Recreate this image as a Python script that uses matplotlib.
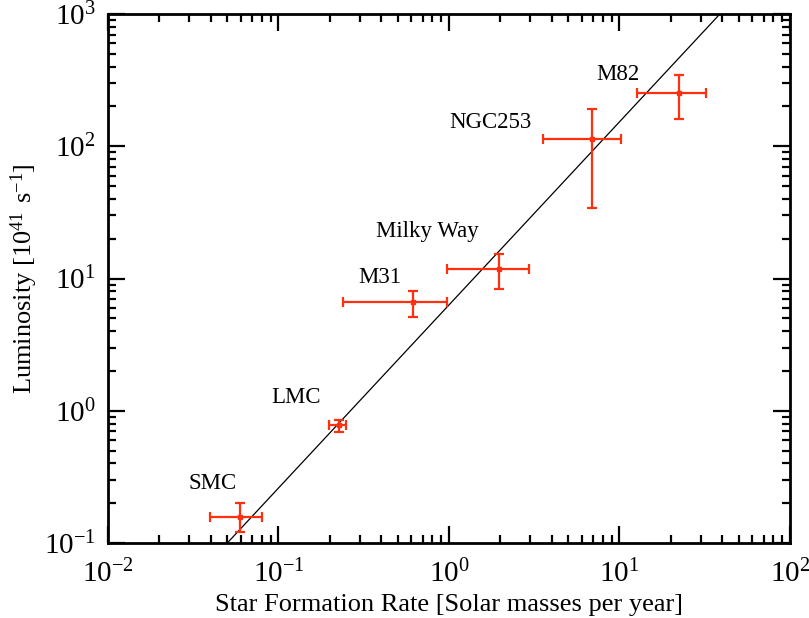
import numpy as np
import matplotlib
matplotlib.use("Agg")
import matplotlib.pyplot as plt
from matplotlib.ticker import LogLocator, FixedLocator, FixedFormatter

# Data
# ----------------------------------------------------------------------
names = ["SMC", "LMC", "M31", "Milky Way", "NGC253", "M82"]
sfr = [0.0594, 0.226, 0.612, 1.97, 6.87, 22.4]
sfr_lo = [0.0396, 0.198, 0.238, 0.98, 3.55, 12.7]
sfr_hi = [0.080, 0.248, 0.98, 2.96, 10.2, 32.2]
lum = [0.157, 0.780, 6.68, 11.8, 112.8, 254.0]
lum_lo = [0.121, 0.695, 5.14, 8.33, 34.3, 161.0]
lum_hi = [0.200, 0.851, 8.05, 15.2, 190.0, 346.0]
label_x = [0.0413, 0.1268, 0.394, 0.743, 1.76, 9.8]
label_y = [0.284, 1.25, 10.1, 22.5, 150.0, 346.0]
fit_x = [0.0501, 38.8]
fit_y = [0.1, 1000.0]
decades = [-2, -1, 0, 1, 2]
ydecades = [-1, 0, 1, 2, 3]
# ----------------------------------------------------------------------

RED = "#ff3010"

plt.rcParams["font.family"] = ["Liberation Serif", "DejaVu Serif"]
plt.rcParams["mathtext.fontset"] = "custom"
plt.rcParams["mathtext.rm"] = "Liberation Serif"

fig = plt.figure(figsize=(8.09, 6.18), dpi=100)
ax = fig.add_axes([0.1335, 0.1214, 0.8430, 0.8559])

x = np.array(sfr)
y = np.array(lum)
xerr = [x - np.array(sfr_lo), np.array(sfr_hi) - x]
yerr = [y - np.array(lum_lo), np.array(lum_hi) - y]

ax.plot(fit_x, fit_y, color="black", linewidth=0.9, zorder=2)
ax.errorbar(x, y, xerr=xerr, yerr=yerr, fmt="s", color=RED, markersize=2.5,
            elinewidth=1.6, capsize=3.5, capthick=1.6, zorder=3)

for n, lx, ly in zip(names, label_x, label_y):
    ax.text(lx, ly, n, fontsize=16.5, ha="center", va="center")

ax.set_xscale("log")
ax.set_yscale("log")
ax.set_xlim(0.01, 100)
ax.set_ylim(0.1, 1000)

ax.xaxis.set_major_locator(FixedLocator([10.0 ** d for d in decades]))
ax.xaxis.set_major_formatter(FixedFormatter([r"$\mathregular{10^{%d}}$" % d for d in decades]))
ax.yaxis.set_major_locator(FixedLocator([10.0 ** d for d in ydecades]))
ax.yaxis.set_major_formatter(FixedFormatter([r"$\mathregular{10^{%d}}$" % d for d in ydecades]))
ax.xaxis.set_minor_locator(LogLocator(base=10, subs=np.arange(2, 10), numticks=20))
ax.yaxis.set_minor_locator(LogLocator(base=10, subs=np.arange(2, 10), numticks=20))

ax.tick_params(which="both", direction="in", top=True, right=True, width=1.6, labelsize=21)
ax.tick_params(axis="x", which="major", length=12, pad=12)
ax.tick_params(axis="y", which="major", length=12, pad=9)
ax.tick_params(which="minor", length=6)
for s in ax.spines.values():
    s.set_linewidth(2)

ax.set_xlabel("Star Formation Rate [Solar masses per year]", fontsize=19, labelpad=4)
ax.set_ylabel(r"Luminosity [$\mathregular{10^{41}\ s^{-1}}$]", fontsize=19)
ax.yaxis.set_label_coords(-0.100, 0.5)

fig.savefig("out.png", dpi=100)
